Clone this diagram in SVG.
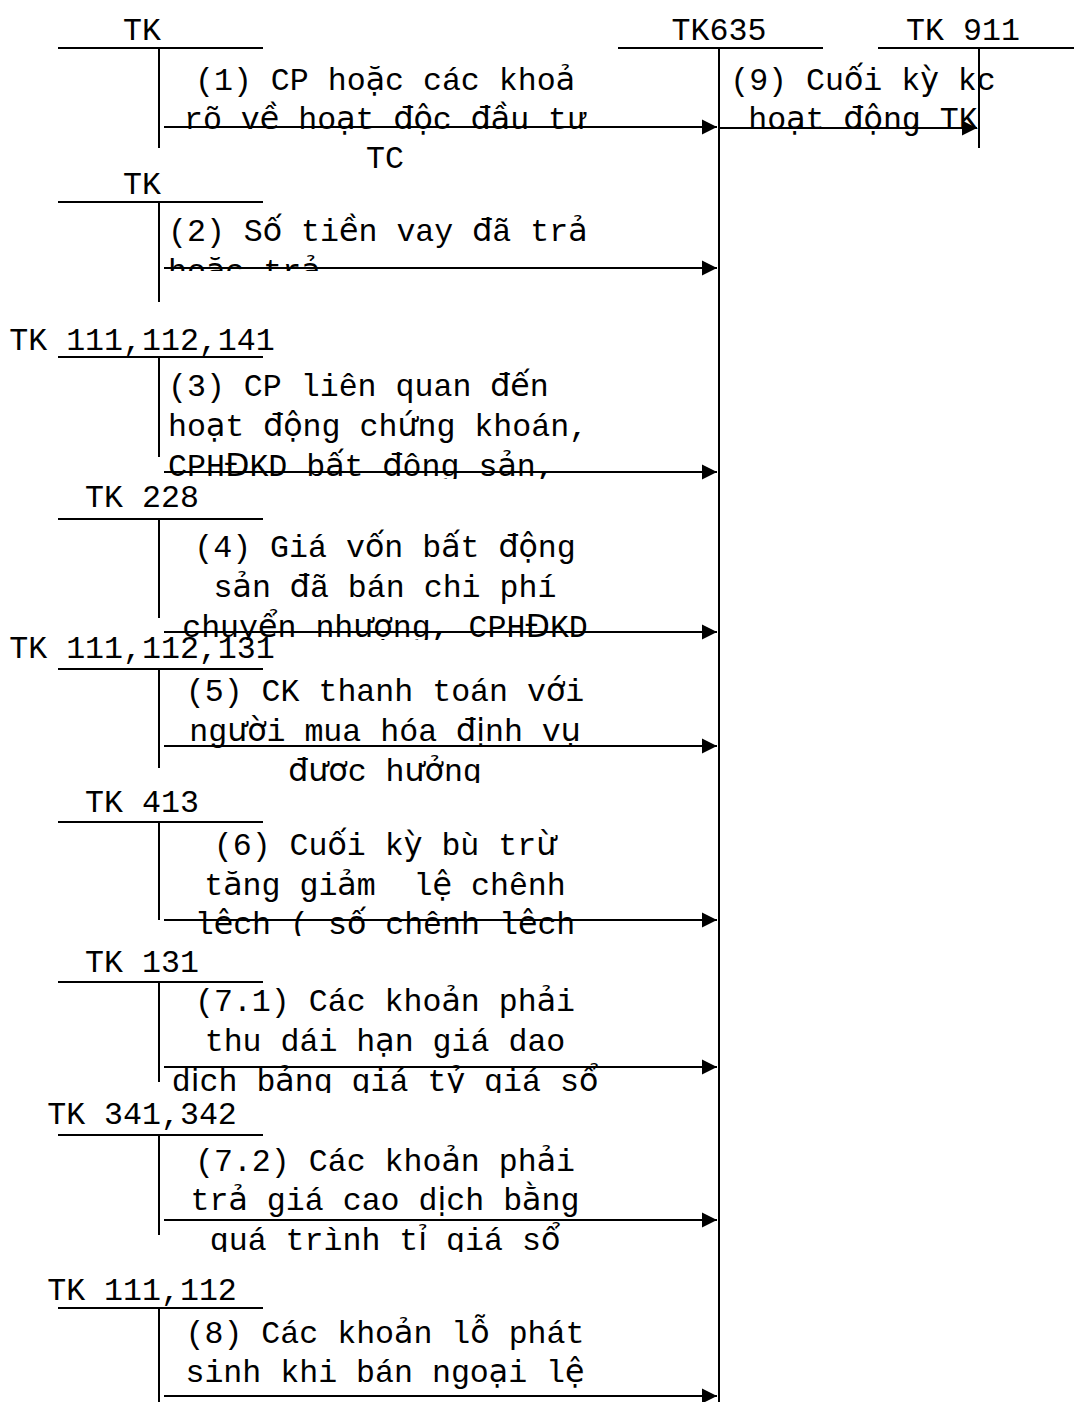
<svg xmlns="http://www.w3.org/2000/svg" width="1074" height="1402" viewBox="0 0 1074 1402">
<style>
.t{font-family:"Liberation Mono","Courier New",monospace;font-size:31.6px;fill:#000}
.v{font-family:"DejaVu Sans","Liberation Sans",sans-serif}
.m{text-anchor:middle}
.ln{stroke:#000;stroke-width:2;fill:none}
.ar{stroke:#000;stroke-width:2;fill:none;marker-end:url(#ah)}
</style>
<defs>
<marker id="ah" markerUnits="userSpaceOnUse" markerWidth="16" markerHeight="16" refX="15" refY="8" orient="auto"><path d="M0,0.5 L15,8 L0,15.5 Z" fill="#000"/></marker>
<clipPath id="c2"><rect x="0" y="200" width="720" height="71"/></clipPath>
<clipPath id="c3"><rect x="0" y="355" width="720" height="124"/></clipPath>
<clipPath id="c4"><rect x="0" y="517" width="720" height="123"/></clipPath>
<clipPath id="c5"><rect x="0" y="667" width="720" height="116"/></clipPath>
<clipPath id="c6"><rect x="0" y="820" width="720" height="116"/></clipPath>
<clipPath id="c71"><rect x="0" y="980" width="720" height="113"/></clipPath>
<clipPath id="c72"><rect x="0" y="1133" width="720" height="119"/></clipPath>
</defs>

<g id="tk635">
<text class="t m" x="719" y="40">TK635</text>
<line class="ln" x1="618" y1="48" x2="823" y2="48"/>
<line class="ln" x1="719" y1="48" x2="719" y2="1402"/>
</g>
<g id="tk911">
<text class="t m" x="963" y="40">TK 911</text>
<line class="ln" x1="878" y1="48" x2="1074" y2="48"/>
<line class="ln" x1="979" y1="48" x2="979" y2="148"/>
</g>

<g id="acc1">
<text class="t m" x="142" y="40">TK</text>
<line class="ln" x1="58" y1="48" x2="263" y2="48"/>
<line class="ln" x1="159" y1="48" x2="159" y2="148"/>
</g>
<g id="acc2">
<text class="t m" x="142" y="194">TK</text>
<line class="ln" x1="58" y1="202" x2="263" y2="202"/>
<line class="ln" x1="159" y1="202" x2="159" y2="302"/>
</g>
<g id="acc3">
<text class="t m" x="142" y="350">TK 111,112,141</text>
<line class="ln" x1="58" y1="357" x2="263" y2="357"/>
<line class="ln" x1="159" y1="357" x2="159" y2="457"/>
</g>
<g id="acc4">
<text class="t m" x="142" y="507">TK 228</text>
<line class="ln" x1="58" y1="519" x2="263" y2="519"/>
<line class="ln" x1="159" y1="519" x2="159" y2="618"/>
</g>
<g id="acc5">
<text class="t m" x="142" y="658">TK 111,112,131</text>
<line class="ln" x1="58" y1="669" x2="263" y2="669"/>
<line class="ln" x1="159" y1="669" x2="159" y2="768"/>
</g>
<g id="acc6">
<text class="t m" x="142" y="812">TK 413</text>
<line class="ln" x1="58" y1="822" x2="263" y2="822"/>
<line class="ln" x1="159" y1="822" x2="159" y2="920"/>
</g>
<g id="acc71">
<text class="t m" x="142" y="972">TK 131</text>
<line class="ln" x1="58" y1="982" x2="263" y2="982"/>
<line class="ln" x1="159" y1="982" x2="159" y2="1082"/>
</g>
<g id="acc72">
<text class="t m" x="142" y="1124">TK 341,342</text>
<line class="ln" x1="58" y1="1135" x2="263" y2="1135"/>
<line class="ln" x1="159" y1="1135" x2="159" y2="1235"/>
</g>
<g id="acc8">
<text class="t m" x="142" y="1300">TK 111,112</text>
<line class="ln" x1="58" y1="1308" x2="263" y2="1308"/>
<line class="ln" x1="159" y1="1308" x2="159" y2="1402"/>
</g>

<g id="connectors">
<line class="ar" x1="164" y1="127" x2="717" y2="127"/>
<line class="ar" x1="164" y1="268" x2="717" y2="268"/>
<line class="ar" x1="164" y1="472" x2="717" y2="472"/>
<line class="ar" x1="164" y1="632" x2="717" y2="632"/>
<line class="ar" x1="164" y1="746" x2="717" y2="746"/>
<line class="ar" x1="164" y1="920" x2="717" y2="920"/>
<line class="ar" x1="164" y1="1067" x2="717" y2="1067"/>
<line class="ar" x1="164" y1="1220" x2="717" y2="1220"/>
<line class="ar" x1="164" y1="1396" x2="717" y2="1396"/>
<line class="ar" x1="720" y1="128" x2="977" y2="128"/>
</g>

<g id="labels">
<g id="lab1">
<text class="t m" x="385" y="90">(1) CP ho<tspan class="v">ặ</tspan>c các kho<tspan class="v">ả</tspan></text>
<text class="t m" x="385" y="129">rõ v<tspan class="v">ề</tspan> ho<tspan class="v">ạ</tspan>t <tspan class="v">độ</tspan>c <tspan class="v">đầ</tspan>u tư</text>
<text class="t m" x="385" y="168">TC</text>
</g>
<g id="lab2" clip-path="url(#c2)">
<text class="t" x="168" y="241">(2) S<tspan class="v">ố</tspan> ti<tspan class="v">ề</tspan>n vay <tspan class="v">đ</tspan>ã tr<tspan class="v">ả</tspan></text>
<text class="t" x="168" y="281">ho<tspan class="v">ặ</tspan>c tr<tspan class="v">ả</tspan></text>
</g>
<g id="lab3" clip-path="url(#c3)">
<text class="t" x="168" y="396">(3) CP liên quan <tspan class="v">đế</tspan>n</text>
<text class="t" x="168" y="436">ho<tspan class="v">ạ</tspan>t <tspan class="v">độ</tspan>ng ch<tspan class="v">ứ</tspan>ng khoán,</text>
<text class="t" x="168" y="476">CPH<tspan class="v">Đ</tspan>KD b<tspan class="v">ấ</tspan>t <tspan class="v">đ</tspan>ông s<tspan class="v">ả</tspan>n,</text>
</g>
<g id="lab4" clip-path="url(#c4)">
<text class="t m" x="385" y="557">(4) Giá v<tspan class="v">ố</tspan>n b<tspan class="v">ấ</tspan>t <tspan class="v">độ</tspan>ng</text>
<text class="t m" x="385" y="597">s<tspan class="v">ả</tspan>n <tspan class="v">đ</tspan>ã bán chi phí</text>
<text class="t m" x="385" y="637">chuy<tspan class="v">ể</tspan>n nh<tspan class="v">ượ</tspan>ng, CPH<tspan class="v">Đ</tspan>KD</text>
</g>
<g id="lab5" clip-path="url(#c5)">
<text class="t m" x="385" y="701">(5) CK thanh toán v<tspan class="v">ớ</tspan>i</text>
<text class="t m" x="385" y="741">ng<tspan class="v">ườ</tspan>i mua hóa <tspan class="v">đị</tspan>nh v<tspan class="v">ụ</tspan></text>
<text class="t m" x="385" y="781"><tspan class="v">đượ</tspan>c h<tspan class="v">ưở</tspan>ng</text>
</g>
<g id="lab6" clip-path="url(#c6)">
<text class="t m" x="385" y="855">(6) Cu<tspan class="v">ố</tspan>i k<tspan class="v">ỳ</tspan> bù tr<tspan class="v">ừ</tspan></text>
<text class="t m" x="385" y="895" xml:space="preserve">t<tspan class="v">ă</tspan>ng gi<tspan class="v">ả</tspan>m  l<tspan class="v">ệ</tspan> chênh</text>
<text class="t m" x="385" y="934">l<tspan class="v">ệ</tspan>ch ( s<tspan class="v">ố</tspan> chênh l<tspan class="v">ệ</tspan>ch</text>
</g>
<g id="lab71" clip-path="url(#c71)">
<text class="t m" x="385" y="1011">(7.1) Các kho<tspan class="v">ả</tspan>n ph<tspan class="v">ả</tspan>i</text>
<text class="t m" x="385" y="1051">thu dái h<tspan class="v">ạ</tspan>n giá dao</text>
<text class="t m" x="385" y="1091">d<tspan class="v">ị</tspan>ch b<tspan class="v">ả</tspan>ng giá t<tspan class="v">ỷ</tspan> giá s<tspan class="v">ổ</tspan></text>
</g>
<g id="lab72" clip-path="url(#c72)">
<text class="t m" x="385" y="1171">(7.2) Các kho<tspan class="v">ả</tspan>n ph<tspan class="v">ả</tspan>i</text>
<text class="t m" x="385" y="1210">tr<tspan class="v">ả</tspan> giá cao d<tspan class="v">ị</tspan>ch b<tspan class="v">ằ</tspan>ng</text>
<text class="t m" x="385" y="1250">quá trình t<tspan class="v">ỉ</tspan> giá s<tspan class="v">ổ</tspan></text>
</g>
<g id="lab8">
<text class="t m" x="385" y="1343">(8) Các kho<tspan class="v">ả</tspan>n l<tspan class="v">ỗ</tspan> phát</text>
<text class="t m" x="385" y="1382">sinh khi bán ngo<tspan class="v">ạ</tspan>i l<tspan class="v">ệ</tspan></text>
</g>
<g id="lab9">
<text class="t m" x="863" y="90">(9) Cu<tspan class="v">ố</tspan>i k<tspan class="v">ỳ</tspan> kc</text>
<text class="t m" x="863" y="129">ho<tspan class="v">ạ</tspan>t <tspan class="v">độ</tspan>ng TK</text>
</g>
</g>
</svg>
